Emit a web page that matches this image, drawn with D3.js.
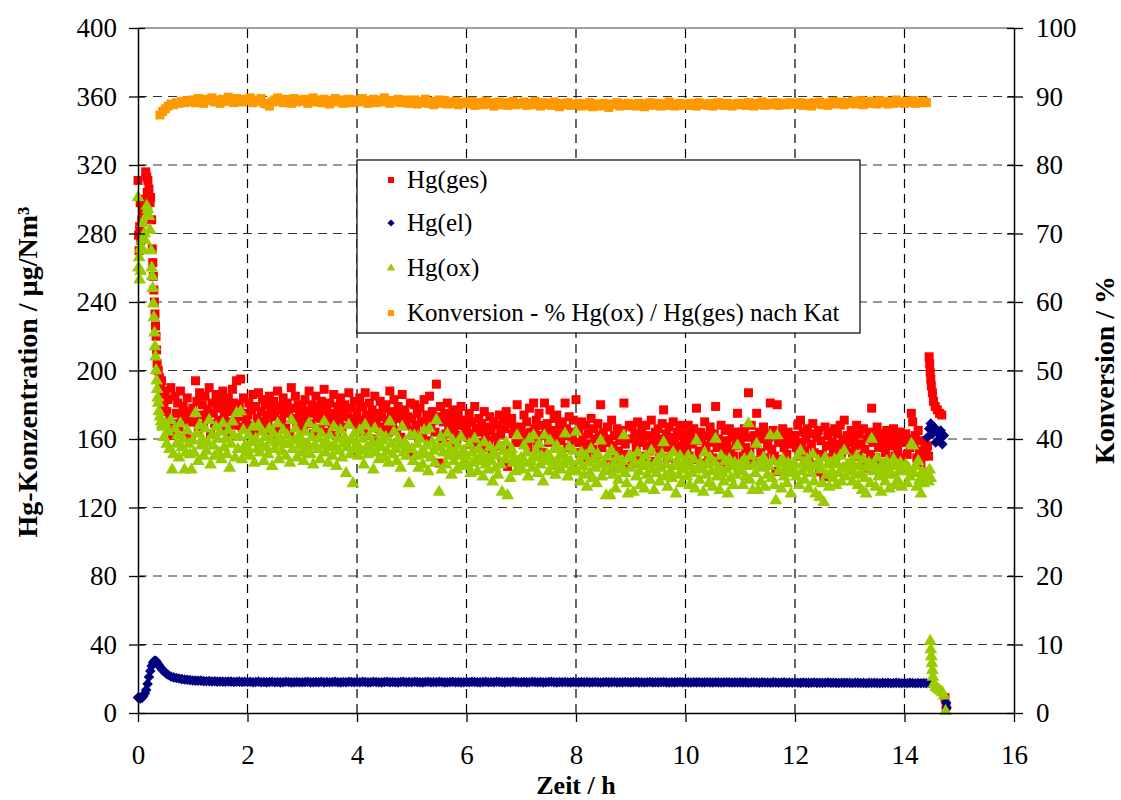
<!DOCTYPE html>
<html><head><meta charset="utf-8">
<script src="https://cdn.jsdelivr.net/npm/d3@7"></script>
<style>body{margin:0;background:#fff}svg{display:block}</style>
</head><body><svg id="c" width="1121" height="800"></svg>
<script>
// ---------- axis ticks ----------
const xTicks = [0,2,4,6,8,10,12,14,16];
const yLeftTicks = [0,40,80,120,160,200,240,280,320,360,400];
const yRightTicks = [0,10,20,30,40,50,60,70,80,90,100];
const seriesNames = ["Hg(ges)","Hg(el)","Hg(ox)","Konversion - % Hg(ox) / Hg(ges) nach Kat"];

// ---------- start-up transient (h, µg/Nm³) ----------
const tGesEarly = [0,0.01,0.02,0.03,0.04,0.05,0.07,0.09,0.11,0.13,0.14,0.16,0.17,0.18,0.2,0.22,0.23,0.25,0.26,0.27,0.28,0.29,0.3,0.31,0.32,0.33,0.34,0.35,0.37,0.39,0.41,0.43];
const gesEarly  = [311,279,270,284,298,276,288,293,300,296,316,313,304,311,306,298,301,288,271,263,255,247,240,233,226,220,212,204,200,196,190,194];
const tOxEarly = [0,0.01,0.02,0.03,0.04,0.05,0.07,0.09,0.1,0.12,0.13,0.15,0.16,0.18,0.2,0.22,0.24,0.25,0.26,0.27,0.28,0.29,0.3,0.31,0.32,0.33,0.34,0.35,0.36,0.37,0.38,0.4,0.42,0.44];
const oxEarly  = [301,260,266,253,271,258,276,286,270,280,276,290,296,294,290,282,270,260,255,248,239,231,222,214,208,200,194,189,184,181,176,173,170,168];
const tElEarly = [0.025,0.075,0.125,0.175,0.225,0.275,0.325,0.375,0.425,0.475,0.525];
const elEarly  = [8.7,9,11.5,17,24.5,29.5,30.5,28.3,26,24.2,22.8];

// ---------- main measurement, sampled every bodyStep h from bodyStart ----------
const bodyStart = 0.45, bodyStep = 0.025;
const gesBody = [
186,180,188,176,183,172,190,162,169,185,175,181,167,188,174,179,161,171,184,176,170,160,
178,170,194,182,165,187,174,180,168,185,172,177,190,163,181,175,169,186,178,171,183,166,188,174,179,170,184,162,176,189,181,168,194,173,180,195,167,184,175,171,
174,181,168,177,186,163,179,172,187,170,176,183,165,180,174,169,185,178,161,182,173,177,188,166,179,171,184,175,168,181,176,163,190,172,178,185,167,180,174,170,
178,165,183,171,176,188,169,180,163,175,185,172,179,166,182,174,189,170,177,164,181,173,168,186,175,162,179,171,184,167,176,180,158,173,187,169,178,152,182,172,
176,168,184,171,179,163,187,174,169,181,172,177,160,185,170,175,166,182,173,178,167,180,171,164,188,176,169,183,172,165,179,174,161,186,170,177,168,173,151,181,
172,165,180,168,175,161,178,170,163,183,169,174,159,185,167,176,171,164,192,173,146,179,160,170,175,163,181,168,172,157,177,165,170,160,174,168,179,162,171,166,
168,161,175,157,170,163,179,166,158,172,164,169,155,176,162,167,159,173,165,152,170,161,168,156,174,163,146,171,166,176,144,169,154,172,163,167,158,180,165,161,
167,159,174,163,170,155,178,164,160,181,166,171,157,175,162,168,152,181,164,169,158,177,165,161,172,156,174,163,168,159,170,162,181,166,155,173,164,160,171,158,
183,158,165,152,170,161,156,168,149,163,157,172,154,166,160,151,169,162,180,155,164,158,145,167,160,143,171,156,162,148,166,153,159,161,165,181,157,151,144,168,
160,167,146,163,155,170,158,150,165,161,148,168,156,162,153,171,159,147,164,157,166,152,160,169,177,155,163,149,167,158,154,170,161,145,164,156,168,151,162,159,
163,155,168,150,161,157,166,148,178,159,153,164,160,146,170,156,162,151,167,158,149,163,179,155,160,147,168,157,152,165,159,145,166,154,161,150,164,156,175,160,
158,164,150,166,155,161,187,153,168,147,162,157,175,146,164,152,160,167,149,163,156,161,181,154,165,150,141,180,158,163,148,166,155,160,151,164,157,145,162,159,
162,155,168,150,171,158,164,153,160,166,148,163,157,169,152,145,161,165,141,159,151,138,167,156,162,149,164,158,154,166,150,163,157,168,152,160,171,155,162,158,
159,165,152,161,156,168,150,163,157,147,166,154,143,160,164,151,178,158,162,149,167,155,160,146,163,157,152,165,159,148,161,156,166,150,162,153,158,164,149,160,
158,163,151,160,155,175,170,157,162,149,165,153,145,159,150,156,152];
const oxBody = [
167,161,169,157,164,154,171,142,151,166,157,162,149,169,155,160,142,152,165,157,151,142,
159,152,175,163,147,168,156,160,150,166,153,158,171,145,162,156,150,167,160,152,164,148,169,155,160,151,165,143,157,170,162,149,175,154,161,176,148,165,156,152,
155,162,150,158,167,146,160,154,168,152,157,164,147,161,155,151,166,159,144,163,154,158,169,148,160,153,165,157,150,162,157,146,171,154,159,166,149,161,156,152,
159,147,164,153,157,169,151,161,145,156,166,154,160,148,163,156,170,152,158,146,162,155,150,167,156,144,160,153,165,149,157,161,140,155,168,151,159,134,163,154,
157,150,165,153,160,145,168,155,151,162,154,158,142,166,152,157,148,163,155,159,149,161,153,146,170,157,151,164,154,147,160,156,143,167,152,158,150,155,134,162,
154,147,162,150,157,143,160,152,145,165,151,156,141,166,149,158,153,146,171,155,129,161,142,152,157,145,163,150,154,139,159,147,152,142,156,150,161,144,153,148,
150,144,157,140,152,146,160,148,141,154,147,151,138,158,145,149,142,155,147,135,152,143,150,139,156,145,129,153,148,158,127,151,137,154,146,149,141,162,147,143,
149,142,156,146,152,138,160,147,143,162,149,153,140,157,145,150,135,162,147,151,141,159,148,144,154,139,156,146,150,142,152,145,163,148,138,155,147,143,153,141,
164,141,147,135,152,144,139,150,132,146,140,154,137,148,143,134,151,145,159,138,146,141,127,150,143,127,153,139,145,131,149,136,142,144,147,162,140,134,128,150,
143,149,129,146,138,152,141,133,147,144,131,150,139,145,136,153,142,130,146,140,148,135,143,151,158,138,145,132,149,141,137,152,144,128,146,139,150,134,145,142,
146,138,150,133,144,140,148,131,159,142,136,146,143,129,152,139,145,134,149,141,132,146,160,138,143,130,150,140,135,147,142,128,148,137,144,133,146,139,156,143,
141,146,133,148,138,144,169,136,150,130,145,140,157,130,146,135,143,149,132,146,139,144,162,137,147,133,124,162,141,146,131,148,138,143,134,146,140,128,145,142,
145,138,150,133,153,141,146,136,143,148,131,145,140,151,135,128,144,147,126,142,134,123,149,139,145,132,146,141,137,148,133,145,140,150,135,143,153,138,145,141,
142,147,135,144,139,150,133,145,140,130,148,137,128,143,146,134,160,141,145,132,149,138,143,129,145,140,135,147,142,131,144,139,148,133,145,136,141,146,132,143,
141,145,134,143,138,157,156,140,144,132,147,136,128,141,134,139,136];

// Hg(el), sampled every elStep h from 0
const elStep = 0.05;
const elBody = [
9,8.5,10,13.5,21,27.5,30.5,29.5,27,25,23.5,22.3,21.3,20.8,20.4,20.1,19.8,19.6,19.4,19.2,
19.0,18.9,18.8,18.9,18.6,18.5,18.6,18.4,18.5,18.3,18.4,18.3,18.2,18.4,18.3,18.1,18.2,18.3,18.1,18.2,
18.1,18.2,18.0,18.1,18.3,18.0,18.1,17.9,18.1,18.2,18.0,18.1,17.9,18.0,18.2,18.1,17.9,18.0,18.1,18.0,
18.0,18.1,18.2,17.9,18.0,18.1,18.0,18.2,17.9,18.1,18.0,18.1,18.2,18.0,17.9,18.1,18.0,18.2,18.1,18.0,
18.1,18.0,18.2,18.1,17.9,18.0,18.2,18.1,18.0,17.9,18.1,18.2,18.0,18.1,18.0,17.9,18.1,18.2,18.0,18.1,
18.0,18.2,18.1,18.0,17.9,18.1,18.2,18.0,18.1,18.0,18.2,18.1,17.9,18.0,18.1,18.2,18.0,18.1,17.9,18.0,
18.1,18.0,18.2,18.1,18.0,17.9,18.1,18.2,18.0,18.1,18.0,18.2,18.1,18.0,17.9,18.1,18.0,18.2,18.1,18.0,
18.0,18.1,17.9,18.0,18.2,18.1,18.0,18.1,17.9,18.0,18.1,18.2,18.0,17.9,18.1,18.0,18.1,18.0,17.9,18.1,
18.0,17.9,18.1,18.0,18.1,17.9,18.0,18.1,18.0,17.8,18.0,18.1,17.9,18.0,18.1,17.9,18.0,17.9,18.1,18.0,
17.9,18.0,18.1,17.9,18.0,17.8,18.0,18.1,17.9,18.0,17.9,18.0,18.1,17.9,17.8,18.0,17.9,18.0,18.1,17.9,
18.0,17.9,17.8,18.0,17.9,18.0,17.8,17.9,18.0,17.9,17.8,18.0,17.9,17.8,17.9,18.0,17.9,17.8,17.9,17.8,
17.9,17.8,17.9,17.7,17.8,17.9,17.8,17.7,17.9,17.8,17.8,17.7,17.9,17.8,17.7,17.8,17.9,17.7,17.8,17.7,
17.8,17.7,17.6,17.8,17.7,17.6,17.7,17.8,17.6,17.7,17.6,17.7,17.8,17.6,17.7,17.6,17.5,17.7,17.6,17.7,
17.6,17.5,17.7,17.6,17.5,17.6,17.4,17.6,17.5,17.6,17.5,17.4,17.6,17.5,17.6,17.4,17.5,17.6,17.5,17.4,
17.5,17.4,17.6,17.5,17.4,17.5,17.4,17.5,17.4,17.5];

// ---------- shut-down transient ----------
const tGesEnd = [14.42,14.44,14.45,14.46,14.47,14.48,14.49,14.51,14.53,14.56,14.60,14.64,14.68,14.74,14.76];
const gesEnd  = [156,150,208,204,199,195,191,187,182,179,177,175,174,9,4];
const tElEnd = [14.42,14.45,14.48,14.51,14.54,14.57,14.60,14.63,14.66,14.69,14.72,14.76,14.77];
const elEnd  = [161,166,169,163,167,158,164,160,165,157,162,6,3];
const tOxEnd = [14.42,14.44,14.46,14.48,14.47,14.48,14.49,14.50,14.51,14.52,14.54,14.57,14.61,14.65,14.69,14.72,14.75];
const oxEnd  = [140,135,142,137,42,37,33,29,25,21,17,15,14,13,12,10,1];

// Konversion (%), sampled every convStep h from convStart
const convStart = 0.4, convStep = 0.05;
const convBody = [
87.3,87.8,88.2,88.6,88.9,88.8,89.1,89.0,89.3,89.1,89.4,89.2,
89.5,89.1,89.7,89.3,89.0,89.6,89.4,89.8,89.2,89.5,89.0,89.6,89.3,89.9,89.4,89.1,89.7,89.5,89.2,89.6,
89.4,89.8,89.1,89.5,89.3,89.7,89.0,88.9,88.6,89.2,89.5,89.8,89.3,89.1,89.6,89.4,89.0,89.7,89.2,89.5,
89.3,89.6,89.0,89.4,89.8,89.2,89.5,89.1,89.6,89.3,88.9,89.4,89.7,89.2,89.5,89.0,89.3,89.6,89.1,89.4,
89.5,89.2,89.7,89.3,89.0,89.4,89.6,89.1,89.5,89.2,89.8,89.3,89.0,89.4,89.2,89.6,89.1,89.3,89.5,89.0,
89.2,89.5,88.9,89.3,89.1,89.6,89.0,89.3,88.8,89.2,89.5,89.0,89.4,88.9,89.2,89.0,89.3,88.8,89.1,89.0,
89.2,88.9,89.3,88.7,89.1,89.0,88.8,89.3,88.9,89.1,88.6,89.0,89.2,88.8,89.1,88.7,89.0,89.3,88.8,89.0,
88.9,89.2,88.7,89.0,88.8,89.3,88.9,88.6,89.1,88.8,89.0,88.7,89.2,88.9,88.5,89.0,88.8,89.1,88.7,88.9,
88.8,89.0,88.6,88.9,88.7,89.1,88.5,88.8,88.9,88.6,89.0,88.7,88.4,88.9,88.8,89.1,88.6,88.9,88.7,89.0,
88.7,88.9,88.6,89.0,88.8,88.5,88.9,89.1,88.7,88.8,89.0,88.6,88.9,88.7,89.2,88.8,88.6,88.9,89.0,88.7,
88.9,88.7,89.0,88.8,88.6,89.1,88.8,88.9,88.7,89.0,88.6,88.9,89.1,88.8,88.7,89.0,88.9,88.6,88.8,89.0,
88.8,89.0,88.7,89.1,88.9,88.6,89.0,88.8,89.2,88.7,88.9,89.0,88.8,89.1,88.7,89.0,88.9,88.8,89.1,88.9,
89.0,88.8,89.1,88.7,89.0,88.9,88.6,89.1,88.9,89.2,88.8,89.0,88.7,89.1,89.3,88.9,89.0,89.2,88.8,89.1,
89.0,89.3,88.9,89.1,89.4,88.8,89.2,89.0,89.3,89.1,88.9,89.4,89.1,89.2,88.9,89.3,89.0,89.5,89.1,89.2,
89.0,89.3,89.1,89.4,89.0,89.2,89.1,89.3,89.1];

const colors = {ges:"#FF0000", el:"#000080", ox:"#99CC00", conv:"#FF9900"};

// ---------- build point tables ----------
const pairs = (ts, vs) => vs.map((v,i)=>({t:ts[i], v}));
const regular = (t0, dt, vs) => vs.map((v,i)=>({t:t0+i*dt, v}));
const gesPts = [...pairs(tGesEarly,gesEarly), ...regular(bodyStart,bodyStep,gesBody), ...pairs(tGesEnd,gesEnd)];
const oxPts  = [...pairs(tOxEarly,oxEarly), ...regular(bodyStart,bodyStep,oxBody), ...pairs(tOxEnd,oxEnd)];
const elPts  = [...regular(0,elStep,elBody), ...pairs(tElEarly,elEarly), ...pairs(tElEnd,elEnd)];
const convPts = regular(convStart,convStep,convBody);

// ---------- layout ----------
const FONT = "'Liberation Serif','Times New Roman',serif";
const svg = d3.select("#c");
const x = d3.scaleLinear().domain([0,16]).range([138,1014]);
const y = d3.scaleLinear().domain([0,400]).range([713,28]);
const y2 = d3.scaleLinear().domain([0,100]).range([713,28]);

// top border
svg.append("line").attr("x1",x(0)).attr("x2",x(16)).attr("y1",y(400)).attr("y2",y(400))
  .attr("stroke","#808080").attr("stroke-width",1.3);

// grid
svg.append("g").selectAll("line").data(yLeftTicks.filter(d=>d>0&&d<400)).join("line")
  .attr("x1",x(0)).attr("x2",x(16)).attr("y1",d=>y(d)).attr("y2",d=>y(d))
  .attr("stroke","#333").attr("stroke-width",1.2).attr("stroke-dasharray","9,6");
svg.append("g").selectAll("line").data(xTicks.filter(d=>d>0&&d<16)).join("line")
  .attr("x1",d=>x(d)).attr("x2",d=>x(d)).attr("y1",y(0)).attr("y2",y(400))
  .attr("stroke","#000").attr("stroke-width",1.2).attr("stroke-dasharray","9,6");

// markers
function drawSym(pts, yS, color, type, size, rot){
  svg.append("g").selectAll("path").data(pts).join("path")
    .attr("d", d3.symbol().type(type).size(size)())
    .attr("transform", d=>`translate(${x(d.t)},${yS(d.v)})` + (rot ? ` rotate(${rot})` : ""))
    .attr("fill", color);
}
drawSym(gesPts, y, colors.ges, d3.symbolSquare, 81, 0);
drawSym(elPts, y, colors.el, d3.symbolSquare, 56, 45);
drawSym(oxPts, y, colors.ox, d3.symbolTriangle, 72, 0);
drawSym(convPts, y2, colors.conv, d3.symbolSquare, 81, 0);

// axes
function styleAxis(g){
  g.attr("font-family",FONT).attr("font-size",27);
  g.selectAll("text").attr("fill","#000");
  g.select(".domain").attr("stroke","#000").attr("stroke-width",1.5);
  g.selectAll(".tick line").attr("stroke","#000").attr("stroke-width",1.3);
}
const gL = svg.append("g").attr("transform",`translate(${x(0)},0)`)
  .call(d3.axisLeft(y).tickValues(yLeftTicks).tickSize(9).tickSizeOuter(0).tickPadding(12).tickFormat(d3.format("d")));
styleAxis(gL); gL.selectAll(".tick line").attr("x1",7);
const gR = svg.append("g").attr("transform",`translate(${x(16)},0)`)
  .call(d3.axisRight(y2).tickValues(yRightTicks).tickSize(9).tickSizeOuter(0).tickPadding(13).tickFormat(d3.format("d")));
styleAxis(gR); gR.selectAll(".tick line").attr("x1",-7);
const gB = svg.append("g").attr("transform",`translate(0,${y(0)})`)
  .call(d3.axisBottom(x).tickValues(xTicks).tickSize(9).tickSizeOuter(0).tickFormat(d3.format("d")));
styleAxis(gB); gB.selectAll("text").attr("y",51).attr("dy",0);

// axis titles
svg.append("text").attr("x",x(8)).attr("y",794).attr("text-anchor","middle")
  .attr("font-family",FONT).attr("font-size",26).attr("font-weight","bold").text("Zeit / h");
svg.append("text").attr("transform","translate(37,372) rotate(-90)").attr("text-anchor","middle")
  .attr("font-family",FONT).attr("font-size",28).attr("font-weight","bold").text("Hg-Konzentration / µg/Nm³");
svg.append("text").attr("transform","translate(1114,370) rotate(-90)").attr("text-anchor","middle")
  .attr("font-family",FONT).attr("font-size",28).attr("font-weight","bold").text("Konversion / %");

// legend
const lg = svg.append("g");
lg.append("rect").attr("x",357).attr("y",160).attr("width",503).attr("height",173)
  .attr("fill","#fff").attr("stroke","#000").attr("stroke-width",1.2);
const legY = [180,223,268,313];
const legShapes = [
  {c:colors.ges, sym:d3.symbolSquare, s:36, rot:0},
  {c:colors.el, sym:d3.symbolSquare, s:26, rot:45},
  {c:colors.ox, sym:d3.symbolTriangle, s:30, rot:0},
  {c:colors.conv, sym:d3.symbolSquare, s:36, rot:0}];
seriesNames.forEach((n,i)=>{
  lg.append("path").attr("d",d3.symbol().type(legShapes[i].sym).size(legShapes[i].s)())
    .attr("transform",`translate(391,${legY[i]}) rotate(${legShapes[i].rot})`).attr("fill",legShapes[i].c);
  lg.append("text").attr("x",407).attr("y",legY[i]+8).attr("font-family",FONT).attr("font-size",25).text(n);
});
</script></body></html>
